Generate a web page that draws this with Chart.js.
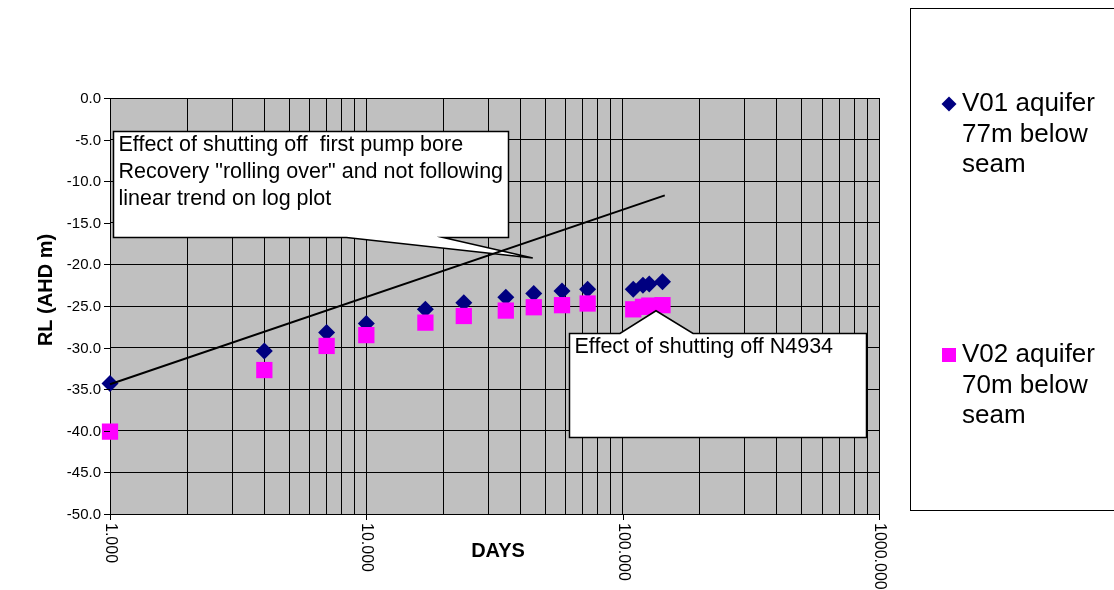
<!DOCTYPE html>
<html>
<head>
<meta charset="utf-8">
<title>RL recovery</title>
<script src="https://cdn.jsdelivr.net/npm/chart.js@4.4.0/dist/chart.umd.min.js"></script>
<style>
    html, body { margin: 0; padding: 0; background: #fff; }
    #wrap { width: 1114px; height: 590px; }
</style>
</head>
<body>
<div id="wrap"><canvas id="chart" width="1114" height="590"></canvas></div>
<script>
// values
const days = [1, 4, 7, 10, 17, 24, 35, 45, 58, 73, 110, 120, 127, 143];
const v01Levels = [-34.3, -30.4, -28.2, -27.1, -25.4, -24.6, -23.95, -23.5, -23.2, -23.0, -23.0, -22.5, -22.35, -22.1];
const v02Levels = [-40.1, -32.7, -29.8, -28.5, -27.0, -26.2, -25.55, -25.15, -24.9, -24.7, -25.4, -25.1, -24.95, -24.9];
const trendDays = [1, 146];
const trendLevels = [-34.4, -11.7];

const xTickValues = [1, 10, 100, 1000];
const xTickLabels = ['1.000', '10.000', '100.000', '1000.000'];
const yTickValues = [0, -5, -10, -15, -20, -25, -30, -35, -40, -45, -50];
const yTickLabels = ['0.0', '-5.0', '-10.0', '-15.0', '-20.0', '-25.0', '-30.0', '-35.0', '-40.0', '-45.0', '-50.0'];

const legendLines = [
    ['V01 aquifer', '77m below', 'seam'],
    ['V02 aquifer', '70m below', 'seam']
];

const FONT = '"Liberation Sans", Arial, sans-serif';
const NAVY = '#000080';
const MAGENTA = '#ff00ff';

// text boxes, placed in data units
const callouts = [
    {
        lines: ['Effect of shutting off  first pump bore', 'Recovery "rolling over" and not following', 'linear trend on log plot'],
        left: 1.024, right: 35.6, top: -3.93, bottom: -16.74,
        side: 'bottom', baseFrom: 8.37, baseTo: 19.93, tipX: 44.6, tipY: -19.23
    },
    {
        lines: ['Effect of shutting off N4934'],
        left: 61.9, right: 890, top: -28.28, bottom: -40.71,
        side: 'top', baseFrom: 97.6, baseTo: 188.2, tipX: 134.9, tipY: -25.57
    }
];

function toPoints(xs, ys) {
    return xs.map((x, i) => ({ x, y: ys[i] }));
}

function drawCallout(chart, c) {
    const { ctx } = chart;
    const xs = chart.scales.x;
    const ys = chart.scales.y;
    const l = Math.round(xs.getPixelForValue(c.left)) + 0.5;
    const r = Math.round(xs.getPixelForValue(c.right)) + 0.5;
    const t = Math.round(ys.getPixelForValue(c.top)) + 0.5;
    const b = Math.round(ys.getPixelForValue(c.bottom)) + 0.5;
    const b0 = xs.getPixelForValue(c.baseFrom);
    const b1 = xs.getPixelForValue(c.baseTo);
    const tx = xs.getPixelForValue(c.tipX);
    const ty = ys.getPixelForValue(c.tipY);

    ctx.save();
    ctx.beginPath();
    if (c.side === 'top') {
        ctx.moveTo(l, t);
        ctx.lineTo(b0, t);
        ctx.lineTo(tx, ty);
        ctx.lineTo(b1, t);
        ctx.lineTo(r, t);
        ctx.lineTo(r, b);
        ctx.lineTo(l, b);
    } else {
        ctx.moveTo(l, t);
        ctx.lineTo(r, t);
        ctx.lineTo(r, b);
        ctx.lineTo(b1, b);
        ctx.lineTo(tx, ty);
        ctx.lineTo(b0, b);
        ctx.lineTo(l, b);
    }
    ctx.closePath();
    ctx.fillStyle = '#fff';
    ctx.fill();
    ctx.lineWidth = 1.5;
    ctx.strokeStyle = '#000';
    ctx.lineJoin = 'miter';
    ctx.stroke();

    ctx.fillStyle = '#000';
    ctx.font = `21.5px ${FONT}`;
    ctx.textAlign = 'left';
    ctx.textBaseline = 'middle';
    c.lines.forEach((line, i) => {
        ctx.fillText(line, l + 5, t + 14 + i * 27);
    });
    ctx.restore();
}

function drawMarker(ctx, style, x, y, size, color) {
    ctx.fillStyle = color;
    ctx.beginPath();
    if (style === 'rectRot') {
        ctx.moveTo(x - size, y);
        ctx.lineTo(x, y - size);
        ctx.lineTo(x + size, y);
        ctx.lineTo(x, y + size);
        ctx.closePath();
    } else {
        ctx.rect(x - size, y - size, size * 2, size * 2);
    }
    ctx.fill();
}

const sheetPlugin = {
    id: 'sheet',
    beforeDraw(chart) {
        const { ctx, chartArea: a } = chart;
        ctx.save();
        ctx.fillStyle = '#c0c0c0';
        ctx.fillRect(a.left, a.top, a.right - a.left, a.bottom - a.top);
        ctx.restore();
    },
    beforeDatasetsDraw(chart) {
        drawCallout(chart, callouts[0]);
    },
    afterDatasetsDraw(chart) {
        drawCallout(chart, callouts[1]);
    },
    afterDraw(chart) {
        const { ctx, chartArea: a } = chart;
        const xs = chart.scales.x;
        const ys = chart.scales.y;
        ctx.save();
        ctx.strokeStyle = '#000';
        ctx.lineWidth = 1;
        ctx.fillStyle = '#000';

        // y ticks
        ctx.font = `15px ${FONT}`;
        ctx.textAlign = 'right';
        ctx.textBaseline = 'middle';
        yTickValues.forEach((v, i) => {
            const py = Math.round(ys.getPixelForValue(v)) + 0.5;
            ctx.beginPath();
            ctx.moveTo(a.left - 6, py);
            ctx.lineTo(a.left, py);
            ctx.stroke();
            ctx.fillText(yTickLabels[i], a.left - 9, py);
        });

        // x ticks, labels read top to bottom
        ctx.font = `16px ${FONT}`;
        xTickValues.forEach((v, i) => {
            const px = Math.round(xs.getPixelForValue(v)) + 0.5;
            ctx.beginPath();
            ctx.moveTo(px, a.bottom);
            ctx.lineTo(px, a.bottom + 6);
            ctx.stroke();
            ctx.save();
            ctx.translate(px, a.bottom + 9);
            ctx.rotate(Math.PI / 2);
            ctx.textAlign = 'left';
            ctx.textBaseline = 'middle';
            ctx.fillText(xTickLabels[i], 0, 0);
            ctx.restore();
        });

        // axis titles
        ctx.font = `bold 20px ${FONT}`;
        ctx.textAlign = 'center';
        ctx.textBaseline = 'middle';
        ctx.fillText('DAYS', 498, 551);
        ctx.save();
        ctx.translate(46, 290);
        ctx.rotate(-Math.PI / 2);
        ctx.fillText('RL (AHD m)', 0, 0);
        ctx.restore();

        // legend box
        ctx.strokeStyle = '#000';
        ctx.lineWidth = 1;
        ctx.strokeRect(910.5, 8.5, 260, 502);
        const entries = [
            { style: 'rectRot', size: 7.5, color: NAVY, y: 104 },
            { style: 'rect', size: 7, color: MAGENTA, y: 355 }
        ];
        ctx.font = `26px ${FONT}`;
        ctx.textAlign = 'left';
        ctx.textBaseline = 'middle';
        entries.forEach((e, i) => {
            drawMarker(ctx, e.style, 949, e.y, e.size, e.color);
            ctx.fillStyle = '#000';
            legendLines[i].forEach((line, j) => {
                ctx.fillText(line, 962, e.y + j * 30.5);
            });
        });
        ctx.restore();
    }
};

new Chart(document.getElementById('chart'), {
    type: 'scatter',
    data: {
        datasets: [
            {
                label: 'trend',
                type: 'line',
                data: toPoints(trendDays, trendLevels),
                borderColor: '#000',
                borderWidth: 2,
                pointRadius: 0,
                fill: false,
                clip: false
            },
            {
                label: 'V02 aquifer 70m below seam',
                data: toPoints(days, v02Levels),
                pointStyle: 'rect',
                pointRadius: 11.5,
                backgroundColor: MAGENTA,
                borderColor: MAGENTA,
                borderWidth: 0,
                clip: false
            },
            {
                label: 'V01 aquifer 77m below seam',
                data: toPoints(days, v01Levels),
                pointStyle: 'rectRot',
                pointRadius: 8.5,
                backgroundColor: NAVY,
                borderColor: NAVY,
                borderWidth: 0,
                clip: false
            }
        ]
    },
    options: {
        responsive: false,
        animation: false,
        events: [],
        layout: {
            padding: { left: 110, top: 98, right: 235, bottom: 76 }
        },
        plugins: {
            legend: { display: false },
            tooltip: { enabled: false }
        },
        scales: {
            x: {
                type: 'logarithmic',
                min: 1,
                max: 1000,
                afterBuildTicks: (scale) => {
                    const ticks = [];
                    for (const decade of xTickValues.slice(0, -1)) {
                        for (let k = 1; k < 10; k++) {
                            ticks.push({ value: decade * k });
                        }
                    }
                    ticks.push({ value: xTickValues[xTickValues.length - 1] });
                    scale.ticks = ticks;
                },
                afterFit: (scale) => { scale.height = 0; },
                ticks: { display: false },
                grid: { color: '#000', lineWidth: 1, drawTicks: false },
                border: { display: true, color: '#000', width: 1 }
            },
            y: {
                type: 'linear',
                min: -50,
                max: 0,
                ticks: { display: false, stepSize: 5 },
                afterFit: (scale) => { scale.width = 0; },
                grid: { color: '#000', lineWidth: 1, drawTicks: false },
                border: { display: true, color: '#000', width: 1 }
            }
        }
    },
    plugins: [sheetPlugin]
});
</script>
</body>
</html>
